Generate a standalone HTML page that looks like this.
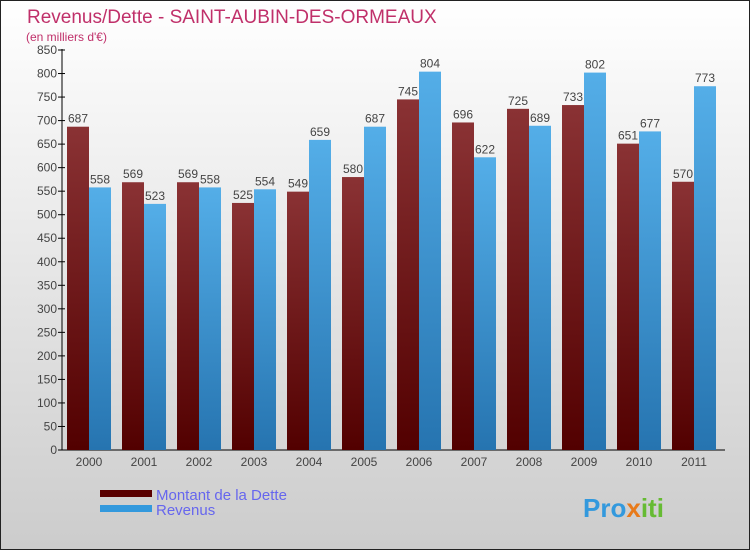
<!DOCTYPE html>
<html><head><meta charset="utf-8"><style>
body{margin:0}
#c{width:748px;height:548px;border:1px solid #222;background:linear-gradient(#fff,#ccc);position:relative;overflow:hidden;font-family:"Liberation Sans",sans-serif}
</style></head><body>
<div id="c">
<svg width="748" height="548" id="s">
<defs>
<linearGradient id="gd" x1="0" y1="0" x2="0" y2="1"><stop offset="0" stop-color="#8a3234"/><stop offset="1" stop-color="#520000"/></linearGradient>
<linearGradient id="gr" x1="0" y1="0" x2="0" y2="1"><stop offset="0" stop-color="#54aee8"/><stop offset="1" stop-color="#2674b0"/></linearGradient>
</defs>
<text x="26" y="22" font-size="19" fill="#c0306a">Revenus/Dette - SAINT-AUBIN-DES-ORMEAUX</text>
<text x="25" y="40" font-size="12" fill="#c0306a">(en milliers d'€)</text>
<g id="g"></g>
<rect x="99" y="489" width="52" height="7" fill="#5a0000"/>
<rect x="99" y="504" width="52" height="7" fill="#3399dd"/>
<text x="155" y="499" font-size="15" fill="#6666ee">Montant de la Dette</text>
<text x="155" y="514" font-size="15" fill="#6666ee">Revenus</text>
<text x="582" y="516" font-size="26" font-weight="bold" fill="#3399dd">Pro<tspan fill="#e87a1a">x</tspan><tspan fill="#66bb33">iti</tspan></text>
</svg></div>
<script>
const years=["2000","2001","2002","2003","2004","2005","2006","2007","2008","2009","2010","2011"];
const dette=[687,569,569,525,549,580,745,696,725,733,651,570];
const revenus=[558,523,558,554,659,687,804,622,689,802,677,773];
const yTicks=[0,50,100,150,200,250,300,350,400,450,500,550,600,650,700,750,800,850];
const NS="http://www.w3.org/2000/svg",g=document.getElementById('g');
const y0=449,yMax=850,ph=400,x0=61,gw=55,bw=22;
const y=v=>y0-v/yMax*ph;
const x=i=>x0+i*gw+5;
function mk(t,a){const e=document.createElementNS(NS,t);for(const k in a)e.setAttribute(k,a[k]);g.appendChild(e);return e;}
let e=mk('line',{x1:x0,y1:y(yMax)-1,x2:x0,y2:y0,stroke:'#000'});


e=mk('line',{x1:x0,y1:y0,x2:724,y2:y0,stroke:'#000'});


yTicks.forEach(v=>{
 let t=mk('line',{x1:x0-4,x2:x0+3,y1:y(v),y2:y(v),stroke:'#000'});
 
 
 let l=mk('text',{x:x0-5,y:y(v)+4,'font-size':12,fill:'#444','text-anchor':'end'});l.textContent=v;
 
 
});
years.forEach((yr,i)=>{
 let xb=x(i);
 let b=mk('rect',{x:xb,y:y(dette[i]),width:bw,height:y0-y(dette[i]),fill:'url(#gd)'});
 
 
 b=mk('rect',{x:xb+bw,y:y(revenus[i]),width:bw,height:y0-y(revenus[i]),fill:'url(#gr)'});
 
 
 let t=mk('text',{x:xb+bw/2,y:y(dette[i])-4,'font-size':12,fill:'#444','text-anchor':'middle'});t.textContent=dette[i];
 
 
 t=mk('text',{x:xb+bw*1.5,y:y(revenus[i])-4,'font-size':12,fill:'#444','text-anchor':'middle'});t.textContent=revenus[i];
 
 
 t=mk('text',{x:xb+bw,y:y0+16,'font-size':12,fill:'#444','text-anchor':'middle'});t.textContent=yr;
 
 
});
</script>
</body></html>
